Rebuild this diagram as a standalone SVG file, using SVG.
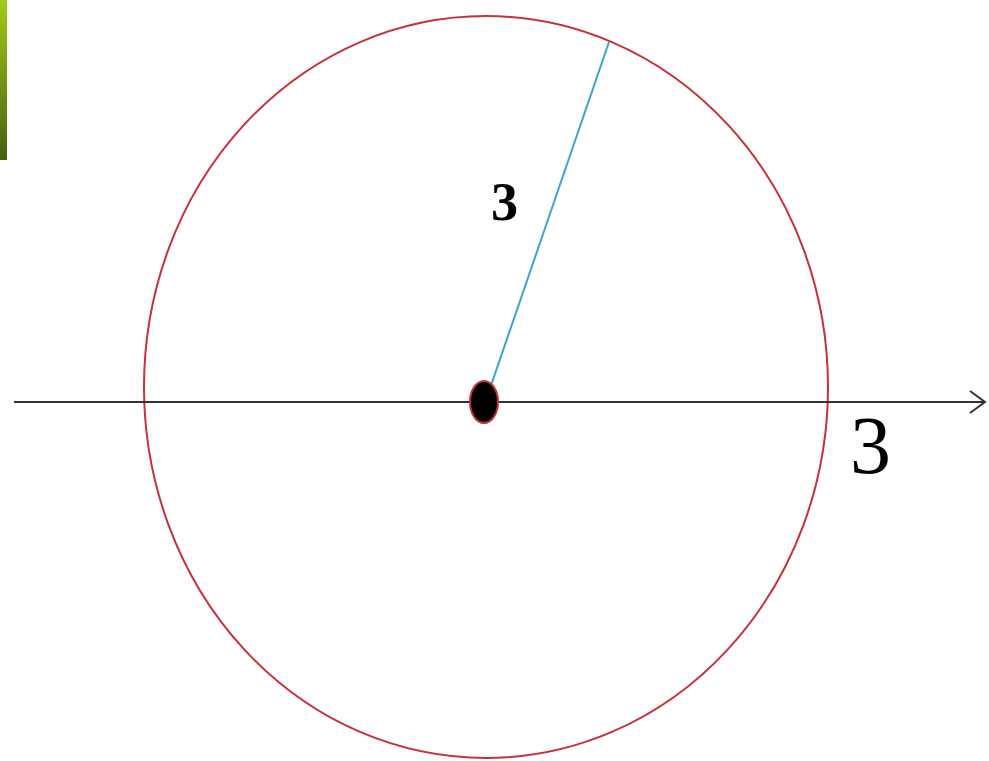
<svg xmlns="http://www.w3.org/2000/svg" width="989" height="761" viewBox="0 0 989 761">
<defs>
<linearGradient id="bar" x1="0" y1="0" x2="0" y2="1">
<stop offset="0" stop-color="#9fcc1a"/>
<stop offset="1" stop-color="#4a5e10"/>
</linearGradient>
<marker id="arrow" markerWidth="20" markerHeight="30" refX="16" refY="12" orient="auto" markerUnits="userSpaceOnUse">
<path d="M1 1 L16 12 L1 23" fill="none" stroke="#333" stroke-width="2"/>
</marker>
</defs>
<style>
.lbl{font-family:"Liberation Serif",serif;fill:#000}
</style>
<rect width="989" height="761" fill="#fff"/>
<rect x="0" y="0" width="7" height="160" fill="url(#bar)"/>
<g id="circle">
<ellipse cx="486" cy="387" rx="342" ry="371" fill="none" stroke="#c8303c" stroke-width="2"/>
</g>
<g id="connectors">
<line x1="14" y1="402" x2="985" y2="402" stroke="#333" stroke-width="2" marker-end="url(#arrow)"/>
<line x1="486" y1="400" x2="609" y2="42" stroke="#3aa6c8" stroke-width="2"/>
</g>
<g id="center">
<ellipse cx="484" cy="402" rx="14" ry="21" fill="#000" stroke="#c8303c" stroke-width="2"/>
</g>
<text class="lbl" x="491" y="220" font-size="54" font-weight="bold">3</text>
<text class="lbl" x="850" y="473" font-size="82">3</text>
</svg>
